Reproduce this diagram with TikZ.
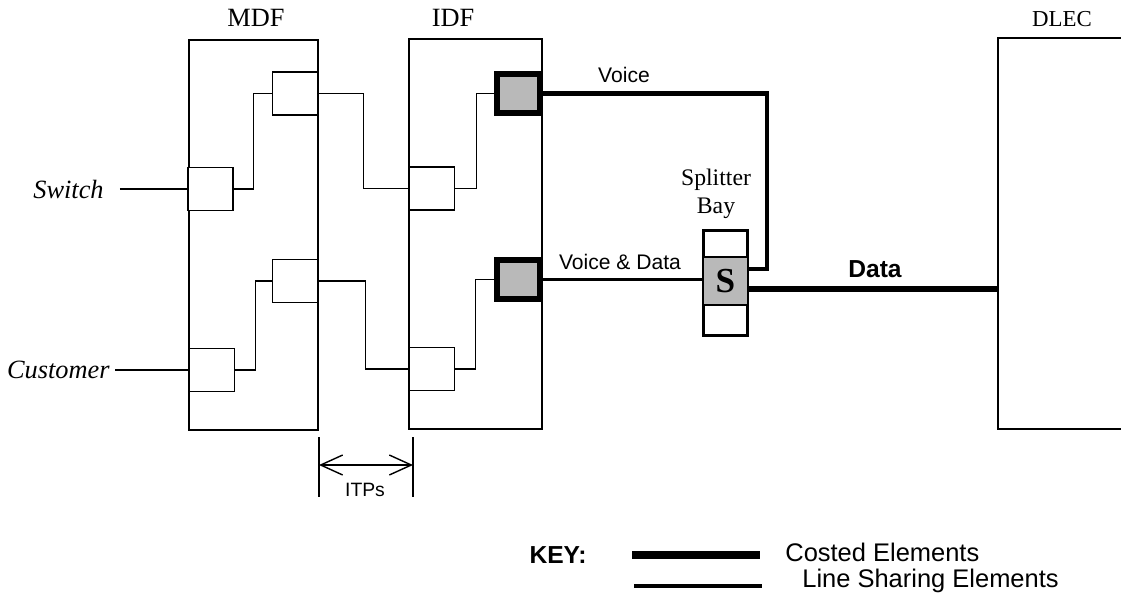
\documentclass[tikz,border=0pt]{standalone}
\usepackage{fontspec}
\setmainfont{Liberation Serif}
\setsansfont{Liberation Sans}
\usetikzlibrary{positioning, arrows.meta, calc}

\tikzset{
  wire/.style={line width=0.8pt},
  frame/.style={draw, line width=0.8pt, inner sep=0pt},
  jack/.style={draw, line width=0.8pt, fill=white, inner sep=0pt,
    minimum width=0.9cm, minimum height=0.86cm},
  costed/.style={draw, line width=3.2pt, fill=gray!55, inner sep=0pt,
    minimum width=0.87cm, minimum height=0.79cm},
  voiceline/.style={line width=2.3pt},
  vdline/.style={line width=1.7pt},
  dataline/.style={line width=3.7pt},
  seriflbl/.style={font=\fontsize{15}{18}\selectfont},
  sanslbl/.style={font=\sffamily\fontsize{12}{14}\selectfont},
  keylbl/.style={font=\sffamily\fontsize{14.5}{17}\selectfont, anchor=west, inner xsep=0pt},
  barb/.style={{Straight Barb[length=0.44cm,width=0.4cm]}-{Straight Barb[length=0.44cm,width=0.4cm]}}
}

\begin{document}
\begin{tikzpicture}[x=0.02cm, y=-0.02cm]
    \useasboundingbox (0,0) rectangle (1121,600);

    % the three frames
    \node[frame, minimum width=2.58cm, minimum height=7.8cm] (mdf) at (253.5,235) {};
    \node[frame, minimum width=2.66cm, minimum height=7.8cm] (idf) at (475.5,234) {};
    \node[frame, minimum width=3.04cm, minimum height=7.82cm] (dlec) at (1074,233.5) {};

    \node[seriflbl] (mdflbl) at (256,18) {MDF};
    \node[seriflbl] (idflbl) at (453,18) {IDF};
    \node[font=\fontsize{13}{16}\selectfont] (dleclbl) at (1062,19) {DLEC};

    % jacks on the frames
    \node[jack] (mdfA) at (295,93.5) {};
    \node[jack] (sw) at (210.5,189) {};
    \node[jack] (mdfB) at (295,281) {};
    \node[jack] (cu) at (212,370) {};
    \node[jack] (idfA) at (432,188.5) {};
    \node[jack] (idfB) at (432,369) {};
    \node[costed] (vo) at (518.5,93.5) {};
    \node[costed] (vd) at (518.5,279.5) {};

    % splitter bay
    \node[draw, line width=1.7pt, inner sep=0pt, minimum width=0.88cm,
      minimum height=2.1cm] (spl) at (725.5,283) {};
    \node[draw, line width=0.8pt, fill=gray!55, inner sep=0pt, minimum width=0.88cm,
      minimum height=0.96cm, font=\bfseries\fontsize{20}{20}\selectfont] (s) at (725.5,281) {S};
    \node[align=center, font=\fontsize{13.5}{15.9}\selectfont] (bay) at (716,194) {Splitter\\Bay};

    % inputs
    \node[font=\itshape\fontsize{15}{18}\selectfont, anchor=east, inner xsep=0pt] (swt) at (104,189) {Switch};
    \node[font=\itshape\fontsize{15}{18}\selectfont, anchor=east, inner xsep=0pt] (cut) at (110,370) {Customer};
    \draw[wire, shorten <=0.32cm] (swt.east) -- (sw.west);
    \draw[wire, shorten <=0.1cm] (cut.east) -- (cu.west);

    % cross-connects
    \draw[wire] (sw.east) -- ++(20,0) |- (mdfA.west);
    \draw[wire] (cu.east) -- ++(20,0) |- (mdfB.west);
    \draw[wire] (mdfA.east) -- ++(45,0) |- (idfA.west);
    \draw[wire] (mdfB.east) -- ++(47,0) |- (idfB.west);
    \draw[wire] (idfA.east) -- ++(21,0) |- (vo.west);
    \draw[wire] (idfB.east) -- ++(20,0) |- (vd.west);

    % costed lines
    \coordinate (vin) at ([yshift=0.28cm]spl.east);
    \coordinate (dout) at ([yshift=-0.12cm]spl.east);
    \draw[voiceline] (vo.east) -| ($(vin)+(18,0)$) -- (vin);
    \draw[vdline] (vd.east) -- (vd.east -| spl.west);
    \draw[dataline] (dout) -- (dout -| dlec.west);

    \node[sanslbl] (vlbl) at (624,75) {Voice};
    \node[sanslbl] (vdlbl) at (620,262) {Voice \& Data};
    \node[font=\sffamily\bfseries\fontsize{14}{16}\selectfont] (dlbl) at (875,269) {Data};

    % ITPs
    \coordinate (itpL) at (319,437);
    \coordinate (itpR) at (413,437);
    \draw[wire] (itpL) -- ++(0,60);
    \draw[wire] (itpR) -- ++(0,60);
    \coordinate (aL) at (319,465);
    \coordinate (aR) at (413,465);
    \draw[wire, barb] (aL) -- (aR);
    \node[font=\sffamily\fontsize{11}{13}\selectfont] (itp) at (365,490) {ITPs};

    % key
    \node[font=\sffamily\bfseries\fontsize{14}{16}\selectfont] (key) at (558,555) {KEY:};
    \node[keylbl] (ce) at (785,552) {Costed Elements};
    \node[keylbl] (lse) at (802,581) {Line Sharing Elements};
    \draw[line width=4.5pt] (632,555) -- (760,555);
    \draw[line width=2.8pt] (634,586) -- (762,586);
\end{tikzpicture}
\end{document}
